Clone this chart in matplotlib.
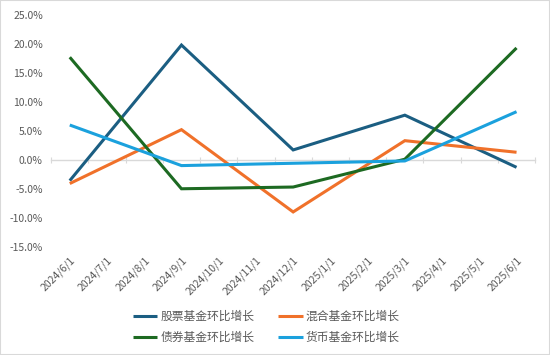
import matplotlib
matplotlib.use("Agg")
import matplotlib.pyplot as plt
import numpy as np

plt.rcParams['font.family'] = ['Noto Sans CJK SC', 'DejaVu Sans']

# monthly category axis, values only reported each quarter
months = ["2024/6/1", "2024/7/1", "2024/8/1", "2024/9/1", "2024/10/1", "2024/11/1",
          "2024/12/1", "2025/1/1", "2025/2/1", "2025/3/1", "2025/4/1", "2025/5/1", "2025/6/1"]
quarter_idx = [0, 3, 6, 9, 12]

stock = [-3.6, 19.8, 1.7, 7.7, -1.3]
mixed = [-4.1, 5.2, -9.0, 3.3, 1.3]
bond = [17.7, -5.0, -4.7, 0.1, 19.3]
money = [6.0, -1.0, -0.6, -0.2, 8.3]

labels = ["股票基金环比增长", "混合基金环比增长", "债券基金环比增长", "货币基金环比增长"]
colors = ["#1B5E82", "#F0712A", "#1D6A22", "#1BA1DD"]

fig = plt.figure(figsize=(5.5, 3.55), dpi=100)
ax = fig.add_axes([0.093, 0.305, 0.88, 0.653])

lines = []
for vals, lab, col in zip([stock, mixed, bond, money], labels, colors):
    ln, = ax.plot(quarter_idx, vals, color=col, lw=2.2, label=lab,
                  solid_joinstyle='miter', solid_capstyle='butt')
    lines.append(ln)

ax.set_xlim(-0.5, len(months) - 0.5)
ax.set_ylim(-15, 25)
ax.set_yticks(np.arange(-15, 26, 5))
ax.set_yticklabels([f"{v:.1f}%" for v in np.arange(-15, 26, 5)])
ax.set_xticks(range(len(months)))
ax.set_xticklabels(months, rotation=45, ha='right', rotation_mode='anchor')
ax.tick_params(axis='both', length=0, labelsize=7.5, colors='#595959')
ax.tick_params(axis='x', pad=6)
ax.tick_params(axis='y', pad=6)
for s in ax.spines.values():
    s.set_visible(False)

# zero line with category boundary ticks
ylo, yhi = ax.get_ylim()
zero_ax = ax.secondary_xaxis((0 - ylo) / (yhi - ylo))
zero_ax.spines['bottom'].set_color('#D9D9D9')
zero_ax.spines['bottom'].set_linewidth(1)
zero_ax.set_xticks(np.arange(-0.5, len(months), 1))
zero_ax.tick_params(axis='x', length=4, direction='inout', color='#D9D9D9',
                    labelbottom=False)
zero_ax.set_zorder(0)

order = [0, 2, 1, 3]
fig.legend([lines[i] for i in order], [labels[i] for i in order], ncol=2,
           loc='center', bbox_to_anchor=(0.484, 0.079), frameon=False,
           fontsize=8.5, labelcolor='#595959', handlelength=2.1,
           columnspacing=2.0, handletextpad=0.25, labelspacing=0.65)

fig.patches.append(plt.Rectangle((0, 0), 1, 1, transform=fig.transFigure,
                                 fill=False, edgecolor='#D9D9D9', lw=1.5))

fig.savefig("out.png", dpi=100)
